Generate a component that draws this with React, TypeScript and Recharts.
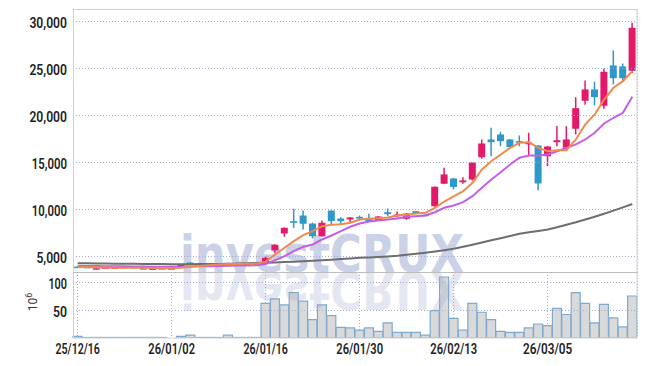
import React from 'react';
import { ComposedChart, BarChart, Bar, Line, XAxis, YAxis, CartesianGrid, ReferenceLine } from 'recharts';

const dates = [
  '25/12/16','25/12/17','25/12/18','25/12/19','25/12/22','25/12/23','25/12/24','25/12/26','25/12/29','25/12/30',
  '26/01/02','26/01/05','26/01/06','26/01/07','26/01/08','26/01/09','26/01/12','26/01/13','26/01/14','26/01/15',
  '26/01/16','26/01/19','26/01/20','26/01/21','26/01/22','26/01/23','26/01/26','26/01/27','26/01/28','26/01/29',
  '26/01/30','26/02/02','26/02/03','26/02/04','26/02/05','26/02/06','26/02/09','26/02/10','26/02/11','26/02/12',
  '26/02/13','26/02/19','26/02/20','26/02/23','26/02/24','26/02/25','26/02/26','26/02/27','26/03/03','26/03/04',
  '26/03/05','26/03/06','26/03/09','26/03/10','26/03/11','26/03/12','26/03/13','26/03/16','26/03/17','26/03/18',
];

const opens = [
  3920,3900,3720,3790,3800,3880,3870,3760,3690,3760,
  3700,3950,4350,4250,4150,4200,4200,4260,4200,4250,
  4200,5650,7450,8760,9360,8510,7160,9890,9040,8940,
  9220,9040,8860,9710,9290,9010,9820,9450,10350,12740,
  13300,12900,13190,15570,17450,17980,17450,17270,17000,16810,
  15670,17160,16570,18590,21570,22770,21040,25320,25220,24760,
];
const highs = [
  3960,3930,3760,3860,3850,3900,3890,3780,3750,3770,
  3770,4120,4380,4280,4220,4230,4330,4280,4270,4270,
  5050,6300,8100,10080,9900,8590,8830,9900,9180,9200,
  9360,9540,9300,10100,9790,9600,9850,9500,12450,14440,
  13350,13440,15050,17450,18690,18270,17500,17870,18160,16850,
  16750,18870,18860,21950,23720,23590,24970,26920,25530,29870,
];
const lows = [
  3830,3840,3700,3780,3790,3830,3820,3690,3680,3690,
  3690,3940,4180,4130,4120,4130,4180,4180,4180,4180,
  4150,5390,7100,8050,7870,6920,7100,8400,8480,8650,
  8830,8700,8800,9290,9150,8900,9550,9380,10300,12700,
  12130,12750,13090,15400,15670,16740,16600,16740,15670,12060,
  14610,16740,16400,17980,21150,21070,20720,23300,23620,24500,
];
const closes = [
  3850,3850,3750,3850,3830,3840,3830,3700,3740,3700,
  3760,4100,4200,4150,4200,4150,4300,4200,4250,4200,
  4850,6250,8050,8590,8480,7160,8590,8760,8760,9150,
  9040,8760,9260,9500,9470,9570,9580,9400,12420,13730,
  12400,13090,15000,17020,17160,17270,16630,17100,17100,12770,
  16700,17370,17450,20780,22770,21950,24650,23970,23970,29330,
];
const volumes = [
  3,1,1,1,1,1,1,1,1,1,
  0,3,5,1,1,1,5,1,1,1,
  62,70,59,81,66,33,59,40,19,18,
  14,18,12,27,10,10,10,5,49,109,
  35,14,62,46,33,12,10,10,18,25,
  22,53,42,81,62,27,60,36,20,75,
];
const ma5 = [
  3880,3870,3850,3830,3810,3800,3800,3790,3770,3760,
  3740,3800,3900,3980,4080,4150,4190,4210,4220,4230,
  4450,5210,5925,6630,7270,7700,8230,8370,8440,8585,
  8940,9010,9080,9150,9360,9430,9575,9650,10180,10850,
  11400,11950,12840,14260,15140,15850,16560,17100,17160,16560,
  16200,16300,16300,17450,19050,20110,21700,22950,23650,24720,
];
const ma20 = [
  4000,3990,3980,3970,3960,3950,3940,3930,3920,3910,
  3900,3910,3930,3950,3970,3990,4010,4030,4050,4080,
  4200,4610,5035,5565,6030,6280,6810,7235,7690,8160,
  8510,8725,8830,8940,9040,9220,9290,9360,9710,10180,
  10430,10780,11420,12310,13190,13970,14790,15500,15750,15750,
  15850,16200,16560,16920,17450,18160,19150,19760,20290,21990,
];
const ma120 = [
  4280,4270,4260,4250,4240,4230,4220,4210,4200,4190,
  4180,4180,4180,4190,4200,4210,4230,4250,4270,4300,
  4330,4370,4410,4450,4500,4550,4600,4660,4730,4790,
  4860,4900,4950,5010,5080,5180,5280,5400,5530,5670,
  5820,6030,6250,6480,6730,6950,7180,7420,7570,7720,
  7870,8120,8380,8640,8930,9230,9550,9880,10230,10580,
];

const priceTicks = [5000, 10000, 15000, 20000, 25000, 30000];
const volTicks = [50, 100];
const xTicks = [dates[0], dates[10], dates[20], dates[30], dates[40], dates[50]];

const priceData = dates.map((d, i) => ({
  date: d, range: [lows[i], highs[i]], open: opens[i], high: highs[i], low: lows[i], close: closes[i],
  ma5: ma5[i], ma20: ma20[i], ma120: ma120[i],
}));
const volData = dates.map((d, i) => ({ date: d, vol: volumes[i] }));

const UP = '#e31a6a';
const DOWN = '#2e98c9';
const GRID = '#a3acd0';
const DASH = '1 2';
const FONT = 'Roboto, "DejaVu Sans", sans-serif';

const charW: Record<string, number> = { '1': 4.6, ',': 2.6, '/': 3.6 };
const labelWidth = (s: string) => s.split('').reduce((a, c) => a + (charW[c] ?? 7), 0);

const Candle = (props: any) => {
  const { x, y, width, height, payload } = props;
  if (!payload) return null;
  const { open, close, high, low } = payload;
  const k = height / Math.max(high - low, 1);
  const yOf = (v: number) => y + (high - v) * k;
  const color = close >= open ? UP : DOWN;
  const top = yOf(Math.max(open, close));
  const bot = yOf(Math.min(open, close));
  const cx = x + width / 2;
  return (
    <g>
      <line x1={cx} x2={cx} y1={y} y2={y + height} stroke={color} strokeWidth={1.5} />
      <rect x={x} y={top} width={width} height={Math.max(bot - top, 1.5)} fill={color} />
    </g>
  );
};

const YTick = (props: any) => {
  const { y, payload } = props;
  const s = Number(payload.value).toLocaleString('en-US');
  return (
    <text x={67} y={y + 7} textAnchor="end" fontFamily={FONT} fontWeight={600} fontSize={14.5}
      fill="#222" textLength={labelWidth(s)} lengthAdjust="spacingAndGlyphs">{s}</text>
  );
};

const XTick = (props: any) => {
  const { x, payload } = props;
  const s = String(payload.value);
  return (
    <text x={x} y={81.5} textAnchor="middle" fontFamily={FONT} fontWeight={600} fontSize={14.5}
      fill="#222" textLength={labelWidth(s)} lengthAdjust="spacingAndGlyphs">{s}</text>
  );
};

export default function App() {
  return (
    <div style={{ position: 'absolute', left: 0, top: 0, width: 647, height: 366, background: '#fff', overflow: 'hidden' }}>
      <svg width={647} height={366} style={{ position: 'absolute', left: 0, top: 0 }}>
        <text x={180} y={271.5} fontFamily='"DejaVu Sans", sans-serif' fontWeight={700} fontSize={52}
          fill="#cbd1e6" textLength={284} lengthAdjust="spacingAndGlyphs">investCRUX</text>
      </svg>
      <div style={{ position: 'absolute', left: 0, top: 0 }}>
        <ComposedChart width={647} height={272} data={priceData} margin={{ top: 10, right: 10, bottom: 0, left: 0 }}>
          <CartesianGrid stroke={GRID} strokeDasharray={DASH} strokeWidth={1} horizontal={false} shapeRendering="crispEdges" />
          <XAxis dataKey="date" ticks={xTicks} interval={0} height={0} tick={false} axisLine={false} tickLine={false} />
          <YAxis width={73} type="number" domain={[3351, 31223]} allowDataOverflow ticks={priceTicks}
            axisLine={false} tickLine={false} tick={<YTick />} />
          {priceTicks.map((t) => (
            <ReferenceLine key={t} y={t} stroke={GRID} strokeDasharray={DASH} strokeWidth={1} shapeRendering="crispEdges" />
          ))}
          <Line dataKey="ma120" stroke="#6e6e6e" strokeWidth={2} dot={false} isAnimationActive={false} />
          <Bar dataKey="range" shape={Candle} barSize={7} isAnimationActive={false} />
          <Line dataKey="ma20" stroke="#c45ee8" strokeWidth={2} dot={false} isAnimationActive={false} />
          <Line dataKey="ma5" stroke="#ef8a4f" strokeWidth={2} dot={false} isAnimationActive={false} />
        </ComposedChart>
      </div>
      <div style={{ position: 'absolute', left: 0, top: 272 }}>
        <BarChart width={647} height={94} data={volData} margin={{ top: 0, right: 10, bottom: 0, left: 0 }} barCategoryGap={0}>
          <CartesianGrid stroke={GRID} strokeDasharray={DASH} strokeWidth={1} horizontal={false} shapeRendering="crispEdges" />
          <XAxis dataKey="date" ticks={xTicks} interval={0} height={28} axisLine={false} tickLine={false} tick={<XTick />} />
          <YAxis width={73} type="number" domain={[0, 117.9]} allowDataOverflow ticks={volTicks}
            axisLine={false} tickLine={false} tick={<YTick />} />
          {volTicks.map((t) => (
            <ReferenceLine key={t} y={t} stroke={GRID} strokeDasharray={DASH} strokeWidth={1} shapeRendering="crispEdges" />
          ))}
          <Bar dataKey="vol" fill="#d9d9d9" stroke="#7eaad0" strokeWidth={1.2} isAnimationActive={false} />
        </BarChart>
      </div>
      <svg width={647} height={366} style={{ position: 'absolute', left: 0, top: 0, pointerEvents: 'none' }}>
        <defs>
          <clipPath id="volClip"><rect x={73} y={272.5} width={564} height={66} /></clipPath>
        </defs>
        <g clipPath="url(#volClip)">
          <text x={180} y={272} transform="translate(0,544) scale(1,-1)" fontFamily='"DejaVu Sans", sans-serif'
            fontWeight={700} fontSize={52} fill="#96a0cd" fillOpacity={0.26} textLength={284}
            lengthAdjust="spacingAndGlyphs">investCRUX</text>
        </g>
        <rect x={73.5} y={9.5} width={563.5} height={328.5} fill="none" stroke="#d2d2d2" strokeWidth={1} />
        <line x1={73.5} x2={637} y1={272.5} y2={272.5} stroke="#bdbdbd" strokeWidth={1} />
        <text transform="translate(36.5,302) rotate(-90)" textAnchor="middle" fontFamily={FONT} fontSize={12} fill="#333">
          10<tspan dy={-4.5} fontSize={9}>6</tspan>
        </text>
      </svg>
    </div>
  );
}
